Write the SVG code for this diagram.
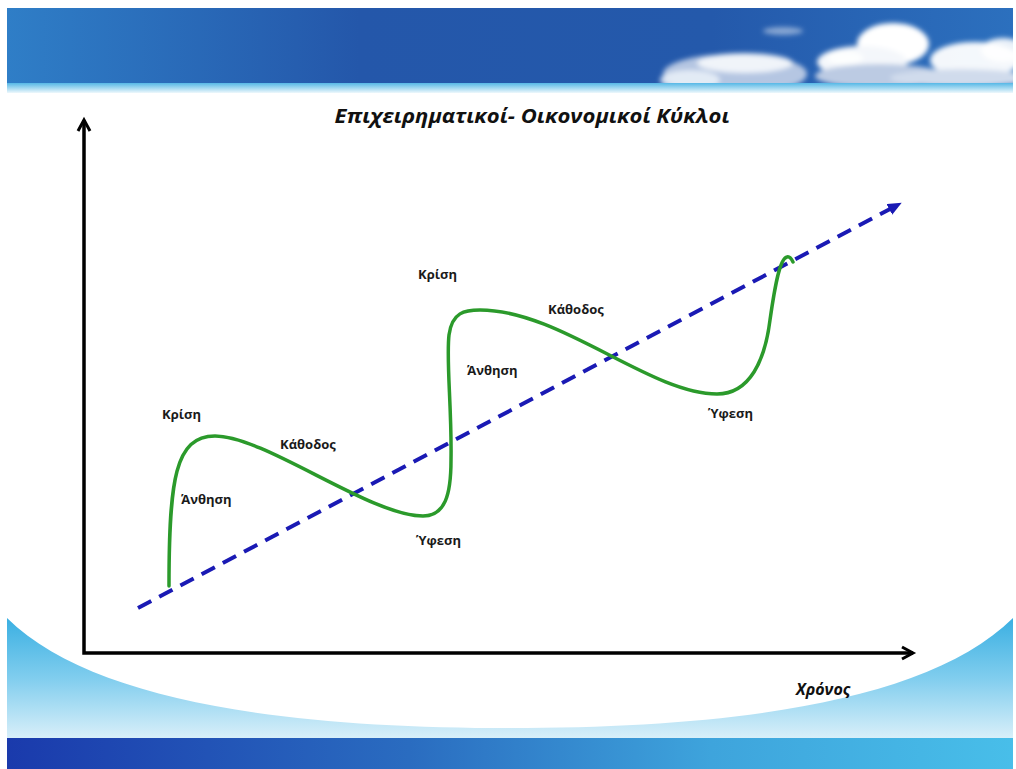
<svg xmlns="http://www.w3.org/2000/svg" width="1016" height="769" viewBox="0 0 1016 769">
<style>
.lbl{font-family:"Open Sans","Noto Sans","DejaVu Sans",sans-serif;font-weight:700;font-size:13px;fill:#1a1a1a}
.ttl{font-family:"Open Sans","Noto Sans","DejaVu Sans",sans-serif;font-weight:700;font-style:italic;fill:#111}
.axis{fill:none;stroke:#000;stroke-width:3.5}
.trend{fill:none;stroke:#1a1ab4;stroke-width:4;stroke-dasharray:15 9}
.cycle{fill:none;stroke:#2b9a2b;stroke-width:3.5;stroke-linecap:round}
</style>
<defs>
<linearGradient id="banner" x1="0" y1="0" x2="1" y2="0">
<stop offset="0" stop-color="#2f7ec7"/>
<stop offset="0.35" stop-color="#2457aa"/>
<stop offset="0.7" stop-color="#2459ab"/>
<stop offset="1" stop-color="#2c70be"/>
</linearGradient>
<linearGradient id="strip" x1="0" y1="0" x2="0" y2="1">
<stop offset="0" stop-color="#56b8e6"/>
<stop offset="1" stop-color="#eef8fc"/>
</linearGradient>
<linearGradient id="cyan" x1="0" y1="0" x2="0" y2="1">
<stop offset="0" stop-color="#3aafe2"/>
<stop offset="0.5" stop-color="#80cdee"/>
<stop offset="1" stop-color="#d8eff9"/>
</linearGradient>
<linearGradient id="band" x1="0" y1="0" x2="1" y2="0">
<stop offset="0" stop-color="#1a3aac"/>
<stop offset="0.4" stop-color="#2a6cc0"/>
<stop offset="0.7" stop-color="#3ea4dc"/>
<stop offset="1" stop-color="#48bee9"/>
</linearGradient>
<filter id="blur" x="-20%" y="-50%" width="140%" height="200%"><feGaussianBlur stdDeviation="2.5"/></filter>
<clipPath id="bclip"><rect x="7" y="8" width="1006" height="76"/></clipPath>
<marker id="chev" markerUnits="userSpaceOnUse" markerWidth="20" markerHeight="20" refX="12" refY="7" orient="auto-start-reverse" viewBox="0 0 20 14">
<path d="M1,1 L12,7 L1,13" fill="none" stroke="#000" stroke-width="3"/>
</marker>
<marker id="tri" markerUnits="userSpaceOnUse" markerWidth="14" markerHeight="12" refX="3" refY="6" orient="auto" viewBox="0 0 14 12">
<path d="M0,0 L14,6 L0,12 z" fill="#1a1ab4"/>
</marker>
</defs>
<rect width="1016" height="769" fill="#fff"/>
<g id="background">
<rect x="7" y="8" width="1006" height="76" fill="url(#banner)"/>
<g clip-path="url(#bclip)" filter="url(#blur)">
<ellipse cx="783" cy="31" rx="20" ry="4" fill="#fff" opacity="0.45"/>
<ellipse cx="735" cy="74" rx="72" ry="20" fill="#c4d2e8" opacity="0.9"/>
<ellipse cx="745" cy="63" rx="48" ry="10" fill="#fff" opacity="0.8"/>
<ellipse cx="690" cy="80" rx="30" ry="10" fill="#e8eef7" opacity="0.9"/>
<ellipse cx="893" cy="44" rx="36" ry="21" fill="#fff"/>
<ellipse cx="862" cy="62" rx="45" ry="16" fill="#f4f7fb"/>
<ellipse cx="880" cy="76" rx="65" ry="12" fill="#bccbe3"/>
<ellipse cx="845" cy="58" rx="18" ry="7" fill="#fff" opacity="0.8"/>
<ellipse cx="975" cy="60" rx="45" ry="18" fill="#fff" opacity="0.95"/>
<ellipse cx="1003" cy="50" rx="22" ry="12" fill="#fff" opacity="0.9"/>
<ellipse cx="960" cy="78" rx="70" ry="9" fill="#d0dbec"/>
</g>
<rect x="7" y="83" width="1006" height="10" fill="url(#strip)"/>
<path d="M7,618 C90,700 280,728 510,728 C740,728 930,700 1013,618 L1013,738 L7,738 Z" fill="url(#cyan)"/>
<rect x="7" y="738" width="1006" height="31" fill="url(#band)"/>
</g>
<g id="title"><text class="ttl" x="532" y="123" font-size="20" text-anchor="middle" textLength="395" lengthAdjust="spacingAndGlyphs">Επιχειρηματικοί- Οικονομικοί Κύκλοι</text></g>
<g id="connectors">
<path id="axes" class="axis" d="M84,120 L84,653 L913,653" marker-start="url(#chev)" marker-end="url(#chev)"/>
<path id="trendline" class="trend" d="M138,608 L892,208" marker-end="url(#tri)"/>
<path id="cycle" class="cycle" d="M169,586 C169,480 175,436 215,436 C265,436 370,516 423,516 C445,516 451,495 451,460 C452,410 446,360 449,335 C452,312 465,310 480,310 C560,310 650,394 717,394 C750,394 765,360 770,320 C775,285 780,258 787,257 Q790,256 793,262"/>
</g>
<g id="label-krisi-1"><text class="lbl" x="162" y="419">Κρίση</text></g>
<g id="label-kathodos-1"><text class="lbl" x="280" y="449">Κάθοδος</text></g>
<g id="label-anthisi-1"><text class="lbl" x="181" y="504">Άνθηση</text></g>
<g id="label-yfesi-1"><text class="lbl" x="416" y="545">Ύφεση</text></g>
<g id="label-krisi-2"><text class="lbl" x="418" y="279">Κρίση</text></g>
<g id="label-kathodos-2"><text class="lbl" x="548" y="314">Κάθοδος</text></g>
<g id="label-anthisi-2"><text class="lbl" x="467" y="375">Άνθηση</text></g>
<g id="label-yfesi-2"><text class="lbl" x="708" y="418">Ύφεση</text></g>
<g id="label-xronos"><text class="ttl" x="796" y="695" font-size="16">Χρόνος</text></g>
</svg>
